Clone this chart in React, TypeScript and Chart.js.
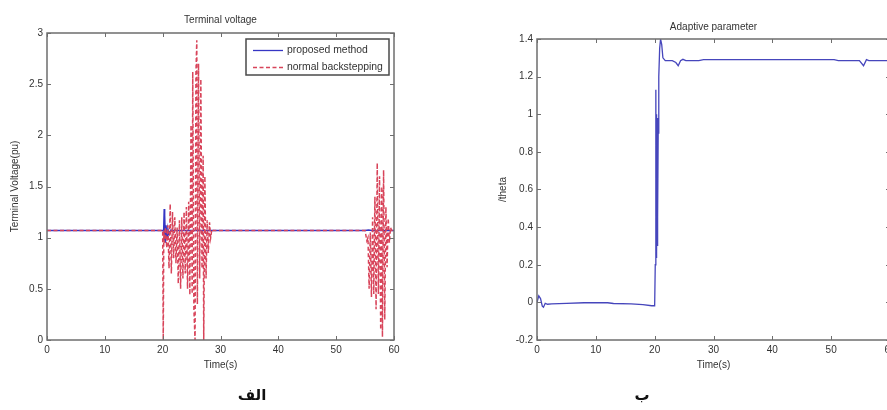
import React, { useEffect, useRef } from 'react';
import { Chart, registerables } from 'chart.js';

Chart.register(...registerables);

// ---------- data ----------
const timeTicks = [0, 10, 20, 30, 40, 50, 60];
const voltageTicks = [0, 0.5, 1, 1.5, 2, 2.5, 3];
const thetaTicks = [-0.2, 0, 0.2, 0.4, 0.6, 0.8, 1, 1.2, 1.4];

const legendLabels = ['proposed method', 'normal backstepping'];

// proposed method (terminal voltage, pu)
const proposedT = [0, 20.0, 20.15, 20.25, 20.32, 20.4, 20.5, 20.6, 20.75, 20.9, 21.1, 21.4, 21.8, 55.0, 55.6, 56.2, 60];
const proposedV = [1.07, 1.07, 1.06, 1.28, 0.97, 1.22, 0.95, 1.12, 1.0, 1.09, 1.04, 1.075, 1.07, 1.07, 1.075, 1.07, 1.07];

// normal backstepping (terminal voltage, pu)
const backstepT = [
  0, 20.0, 20.1, 20.2, 20.3, 20.5, 20.7, 20.9, 21.1, 21.3, 21.5, 21.7, 21.9, 22.1, 22.3, 22.5, 22.7, 22.9,
  23.1, 23.3, 23.5, 23.7, 23.9, 24.1, 24.3, 24.5, 24.7, 24.9, 25.1, 25.2, 25.4, 25.6, 25.75, 25.9, 26.0,
  26.2, 26.4, 26.6, 26.8, 27.0, 27.1, 27.3, 27.5, 27.7, 27.9, 28.1, 28.3, 28.5, 28.7,
  55.0, 55.3, 55.5, 55.7, 55.9, 56.1, 56.3, 56.5, 56.7, 56.9, 57.1, 57.3, 57.5, 57.7, 57.9, 58.0,
  58.2, 58.4, 58.6, 58.8, 59.0, 59.2, 59.4, 59.6, 60,
];
const backstepV = [
  1.07, 1.07, 0.0, 1.07, 0.95, 1.1, 0.9, 1.12, 0.7, 1.33, 0.65, 1.25, 0.8, 1.2, 0.75, 1.1, 0.55, 1.17,
  0.5, 1.2, 0.6, 1.25, 0.65, 1.3, 0.5, 1.35, 0.44, 2.1, 0.45, 2.62, 0.3, 0.0, 2.6, 2.93, 0.35,
  2.7, 0.6, 2.55, 0.7, 1.8, 0.0, 1.6, 0.6, 1.17, 0.85, 1.15, 1.0, 1.08, 1.07,
  1.07, 0.97, 1.0, 0.5, 1.05, 0.42, 1.2, 0.45, 1.4, 0.3, 1.73, 0.45, 1.6, 0.1, 1.5, 0.03,
  1.66, 0.2, 1.3, 0.71, 1.19, 0.95, 1.1, 1.07, 1.07,
];

// adaptive parameter theta
const thetaT = [
  0, 0.3, 0.6, 0.9, 1.1, 1.4, 1.8, 2.5, 5, 8, 12, 13, 16, 18, 19.5, 20.0, 20.1, 20.2, 20.25, 20.3, 20.35,
  20.4, 20.45, 20.5, 20.55, 20.6, 20.7, 20.85, 21.0, 21.2, 21.4, 21.8, 23.0, 23.6, 24.0, 24.4, 24.8, 25.3,
  27.5, 28.3, 50.5, 51.2, 54.8, 55.5, 56.0, 56.4, 60,
];
const thetaV = [
  0.0, 0.035, 0.02, -0.02, -0.026, -0.005, -0.01, -0.008, -0.005, -0.002, -0.002, -0.006, -0.008, -0.012, -0.018, -0.018, 0.2, 1.13, 0.24, 1.0, 0.25,
  0.98, 0.3, 0.95, 0.45, 0.9, 1.2, 1.35, 1.4, 1.37, 1.3, 1.285, 1.285, 1.275, 1.258, 1.285, 1.292, 1.285,
  1.285, 1.29, 1.29, 1.285, 1.285, 1.258, 1.29, 1.285, 1.285,
];

// ---------- helpers ----------
const toPoints = (t: number[], v: number[]) => t.map((x, i) => ({ x, y: v[i] }));
const fmt = (v: number) => String(Math.round(v * 100) / 100);

const TEXT = '#333333';
const AXIS = '#6e6e6e';
const BLUE = '#3636c4';
const RED = '#d8445a';

const boxPlugin = {
  id: 'matlabBox',
  afterDraw(chart: any) {
    const { ctx, chartArea } = chart;
    const { left, right, top, bottom } = chartArea;
    const xs = chart.scales.x;
    const ys = chart.scales.y;
    ctx.save();
    ctx.strokeStyle = AXIS;
    ctx.lineWidth = 1.5;
    ctx.strokeRect(left, top, right - left, bottom - top);
    ctx.lineWidth = 1;
    ctx.beginPath();
    xs.ticks.forEach((t: any) => {
      const p = Math.round(xs.getPixelForValue(t.value)) + 0.5;
      ctx.moveTo(p, bottom);
      ctx.lineTo(p, bottom - 4);
      ctx.moveTo(p, top);
      ctx.lineTo(p, top + 4);
    });
    ys.ticks.forEach((t: any) => {
      const p = Math.round(ys.getPixelForValue(t.value)) + 0.5;
      ctx.moveTo(left, p);
      ctx.lineTo(left + 4, p);
      ctx.moveTo(right, p);
      ctx.lineTo(right - 4, p);
    });
    ctx.stroke();
    ctx.restore();
  },
};

const legendPlugin = {
  id: 'boxLegend',
  afterDraw(chart: any, _args: any, opts: any) {
    if (!opts || !opts.show) return;
    const { ctx, chartArea } = chart;
    const w = 143;
    const h = 36;
    const x0 = chartArea.right - 5 - w;
    const y0 = chartArea.top + 6;
    ctx.save();
    ctx.fillStyle = '#ffffff';
    ctx.fillRect(x0, y0, w, h);
    ctx.strokeStyle = '#4a4a4a';
    ctx.lineWidth = 1.5;
    ctx.strokeRect(x0, y0, w, h);
    chart.data.datasets.forEach((ds: any, i: number) => {
      const yy = y0 + 11 + i * 17;
      ctx.strokeStyle = ds.borderColor;
      ctx.lineWidth = ds.borderWidth || 1;
      ctx.setLineDash(ds.borderDash || []);
      ctx.beginPath();
      ctx.moveTo(x0 + 7, yy + 0.5);
      ctx.lineTo(x0 + 37, yy + 0.5);
      ctx.stroke();
      ctx.setLineDash([]);
      ctx.fillStyle = TEXT;
      ctx.font = '10.4px "Liberation Sans", Arial, sans-serif';
      ctx.textBaseline = 'middle';
      ctx.textAlign = 'left';
      ctx.fillText(ds.label, x0 + 41, yy);
    });
    ctx.restore();
  },
};

function makeOptions(cfg: {
  title: string;
  titlePad: { top: number; bottom: number };
  yTitle: string;
  yTitlePad: number;
  yWidth: number;
  yMin: number;
  yMax: number;
  yTicks: number[];
  padRight: number;
  legend: boolean;
}): any {
  const font = { family: '"Liberation Sans", Arial, sans-serif', size: 10, weight: 'normal' };
  return {
    responsive: false,
    animation: false,
    events: [],
    layout: { padding: { left: 0, right: cfg.padRight, top: 0, bottom: 35 } },
    plugins: {
      legend: { display: false },
      tooltip: { enabled: false },
      title: {
        display: true,
        text: cfg.title,
        fullSize: false,
        color: TEXT,
        font,
        padding: cfg.titlePad,
      },
      boxLegend: { show: cfg.legend },
    },
    scales: {
      x: {
        type: 'linear',
        min: 0,
        max: 60,
        afterBuildTicks: (s: any) => {
          s.ticks = timeTicks.map((value) => ({ value }));
        },
        afterFit: (s: any) => {
          s.height = 35;
        },
        grid: { display: false, drawTicks: false },
        border: { display: false },
        ticks: { color: TEXT, font, padding: 4, maxRotation: 0, autoSkip: false, callback: (v: any) => fmt(Number(v)) },
        title: { display: true, text: 'Time(s)', color: TEXT, font, padding: { top: 0, bottom: 4 } },
      },
      y: {
        type: 'linear',
        min: cfg.yMin,
        max: cfg.yMax,
        afterBuildTicks: (s: any) => {
          s.ticks = cfg.yTicks.map((value) => ({ value }));
        },
        afterFit: (s: any) => {
          s.width = cfg.yWidth;
        },
        grid: { display: false, drawTicks: false },
        border: { display: false },
        ticks: { color: TEXT, font, padding: 4, autoSkip: false, callback: (v: any) => fmt(Number(v)) },
        title: { display: true, text: cfg.yTitle, color: TEXT, font, padding: { top: cfg.yTitlePad, bottom: 0 } },
      },
    },
  };
}

function VoltageChart() {
  const ref = useRef<HTMLCanvasElement | null>(null);
  useEffect(() => {
    if (!ref.current) return;
    const chart = new Chart(ref.current, {
      type: 'line',
      data: {
        datasets: [
          {
            label: legendLabels[0],
            data: toPoints(proposedT, proposedV),
            borderColor: BLUE,
            borderWidth: 1.3,
            pointRadius: 0,
            tension: 0,
            order: 1,
          },
          {
            label: legendLabels[1],
            data: toPoints(backstepT, backstepV),
            borderColor: RED,
            borderWidth: 1.5,
            borderDash: [4, 2.5],
            pointRadius: 0,
            tension: 0,
            order: 0,
          },
        ],
      },
      options: makeOptions({
        title: 'Terminal voltage',
        titlePad: { top: 14, bottom: 7 },
        yTitle: 'Terminal Voltage(pu)',
        yTitlePad: 9,
        yWidth: 47,
        yMin: 0,
        yMax: 3,
        yTicks: voltageTicks,
        padRight: 46,
        legend: true,
      }),
      plugins: [boxPlugin, legendPlugin],
    } as any);
    return () => chart.destroy();
  }, []);
  return <canvas ref={ref} width={440} height={410} style={{ position: 'absolute', left: 0, top: 0 }} />;
}

function ThetaChart() {
  const ref = useRef<HTMLCanvasElement | null>(null);
  useEffect(() => {
    if (!ref.current) return;
    const chart = new Chart(ref.current, {
      type: 'line',
      data: {
        datasets: [
          {
            label: 'theta',
            data: toPoints(thetaT, thetaV),
            borderColor: '#4646bc',
            borderWidth: 1.3,
            pointRadius: 0,
            tension: 0,
          },
        ],
      },
      options: makeOptions({
        title: 'Adaptive parameter',
        titlePad: { top: 21, bottom: 6 },
        yTitle: '/theta',
        yTitlePad: 57,
        yWidth: 97,
        yMin: -0.2,
        yMax: 1.4,
        yTicks: thetaTicks,
        padRight: 96,
        legend: false,
      }),
      plugins: [boxPlugin, legendPlugin],
    } as any);
    return () => chart.destroy();
  }, []);
  return <canvas ref={ref} width={546} height={410} style={{ position: 'absolute', left: 440, top: 0 }} />;
}

const captionStyle: React.CSSProperties = {
  position: 'absolute',
  width: 60,
  textAlign: 'center',
  fontFamily: '"DejaVu Sans", sans-serif',
  fontWeight: 'bold',
  fontSize: 15,
  lineHeight: '18px',
  color: '#111',
};

export default function App() {
  return (
    <div
      style={{
        position: 'fixed',
        left: 0,
        top: 0,
        width: 887,
        height: 410,
        overflow: 'hidden',
        background: '#ffffff',
      }}
    >
      <VoltageChart />
      <ThetaChart />
      <div dir="rtl" style={{ ...captionStyle, left: 222, top: 386 }}>الف</div>
      <div dir="rtl" style={{ ...captionStyle, left: 612, top: 386 }}>ب</div>
    </div>
  );
}
